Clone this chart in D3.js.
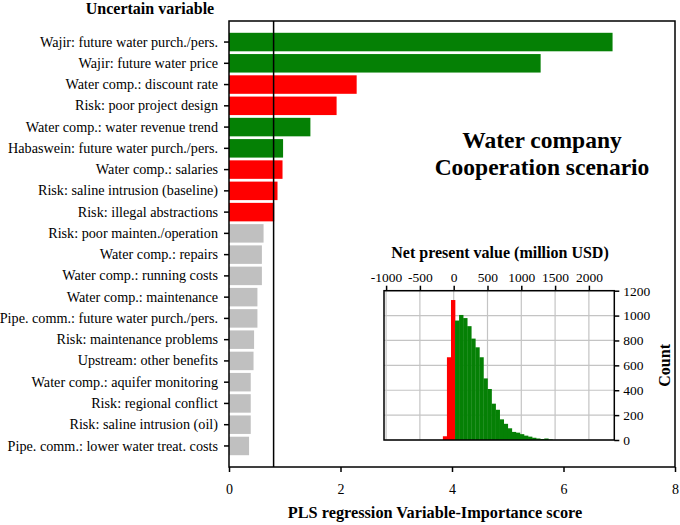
<!DOCTYPE html>
<html>
<head>
<meta charset="utf-8">
<script src="https://cdn.jsdelivr.net/npm/d3@7"></script>
<style>
  body { margin: 0; background: #fff; }
  svg, svg g, svg text { font-family: "Liberation Serif", "Times New Roman", serif; }
</style>
</head>
<body>
<div id="chart"></div>
<script>
// Our canvas
const width = 680,
  height = 525
const serif = '"Liberation Serif", "Times New Roman", serif'

// PLS importance per uncertain variable
const variables = [
  'Wajir: future water purch./pers.',
  'Wajir: future water price',
  'Water comp.: discount rate',
  'Risk: poor project design',
  'Water comp.: water revenue trend',
  'Habaswein: future water purch./pers.',
  'Water comp.: salaries',
  'Risk: saline intrusion (baseline)',
  'Risk: illegal abstractions',
  'Risk: poor mainten./operation',
  'Water comp.: repairs',
  'Water comp.: running costs',
  'Water comp.: maintenance',
  'Pipe. comm.: future water purch./pers.',
  'Risk: maintenance problems',
  'Upstream: other benefits',
  'Water comp.: aquifer monitoring',
  'Risk: regional conflict',
  'Risk: saline intrusion (oil)',
  'Pipe. comm.: lower water treat. costs'
]
const scores = [6.88, 5.59, 2.29, 1.93, 1.46, 0.97, 0.96, 0.87, 0.81, 0.62,
  0.59, 0.59, 0.51, 0.51, 0.45, 0.44, 0.39, 0.39, 0.39, 0.36]
// pos = positive effect on NPV, neg = negative, ns = below threshold
const effects = ['pos', 'pos', 'neg', 'neg', 'pos', 'pos', 'neg', 'neg', 'neg', 'ns',
  'ns', 'ns', 'ns', 'ns', 'ns', 'ns', 'ns', 'ns', 'ns', 'ns']
const threshold = 0.8
const xTicks = [0, 2, 4, 6, 8]

// NPV histogram (million USD), bins of 60 starting at -160
const binStart = -160,
  binWidth = 60
const counts = [30, 665, 1125, 960, 1005, 980, 915, 815, 745, 665, 495, 410, 292,
  243, 166, 130, 94, 65, 59, 47, 35, 27, 18, 12, 8, 12, 4]
const npvTicks = [-1000, -500, 0, 500, 1000, 1500, 2000]
const countTicks = [0, 200, 400, 600, 800, 1000, 1200]

const colors = { pos: '#058005', neg: '#ff0000', ns: '#c0c0c0' }

const svg = d3.select('#chart')
  .append('svg')
  .attr('width', width)
  .attr('height', height)
  .attr('font-family', serif)

// main plot
const pLeft = 229, pRight = 675, pTop = 21, pBottom = 467

const x = d3.scaleLinear().domain([0, 8]).range([pLeft, pRight])
const y = d3.scaleBand()
  .domain(variables)
  .range([pTop, pBottom])
  .paddingInner(0.13)
  .paddingOuter(0.555)

svg.selectAll('rect.bar')
  .data(variables)
  .enter()
  .append('rect')
  .attr('class', 'bar')
  .attr('x', x(0))
  .attr('y', d => y(d))
  .attr('width', (d, i) => x(scores[i]) - x(0))
  .attr('height', y.bandwidth())
  .attr('fill', (d, i) => colors[effects[i]])

svg.append('rect')
  .attr('x', pLeft).attr('y', pTop)
  .attr('width', pRight - pLeft).attr('height', pBottom - pTop)
  .attr('fill', 'none').attr('stroke', '#000').attr('stroke-width', 1.5)

svg.append('line')
  .attr('x1', x(threshold)).attr('x2', x(threshold))
  .attr('y1', pTop).attr('y2', pBottom)
  .attr('stroke', '#000').attr('stroke-width', 1.5)

// style an axis group the way the figure does
let styleAxis = (g, size) => {
  g.attr('font-family', serif)
  g.select('.domain').remove()
  g.selectAll('line').attr('stroke-width', 1.5)
  g.selectAll('text').attr('font-size', size).attr('fill', '#000')
}

const axisL = d3.axisLeft(y).tickSize(5).tickPadding(6)
const gL = svg.append('g').attr('transform', `translate(${pLeft},0)`).call(axisL)
styleAxis(gL, 14.2)

const axisB = d3.axisBottom(x).tickValues(xTicks).tickSize(5).tickPadding(12)
const gB = svg.append('g').attr('transform', `translate(0,${pBottom})`).call(axisB)
styleAxis(gB, 14)

svg.append('text')
  .attr('x', 150).attr('y', 14)
  .attr('text-anchor', 'middle')
  .attr('font-weight', 'bold').attr('font-size', 16)
  .text('Uncertain variable')

svg.append('text')
  .attr('x', 435).attr('y', 518)
  .attr('text-anchor', 'middle')
  .attr('font-weight', 'bold').attr('font-size', 16.3)
  .text('PLS regression Variable-Importance score')

const title = svg.append('text')
  .attr('text-anchor', 'middle')
  .attr('font-weight', 'bold').attr('font-size', 23.5)
title.append('tspan').attr('x', 542).attr('y', 148).text('Water company')
title.append('tspan').attr('x', 542).attr('y', 175).text('Cooperation scenario')

// inset histogram
const iL = 384, iR = 614.3, iT = 290.7, iB = 440

const hx = d3.scaleLinear().domain([-1031, 2376]).range([iL, iR])
const hy = d3.scaleLinear().domain([0, 1200]).range([iB, iT])

const inset = svg.append('g')
inset.append('rect')
  .attr('x', iL).attr('y', iT)
  .attr('width', iR - iL).attr('height', iB - iT)
  .attr('fill', '#fff')

inset.selectAll('line.vgrid')
  .data(npvTicks)
  .enter()
  .append('line')
  .attr('class', 'vgrid')
  .attr('x1', d => hx(d)).attr('x2', d => hx(d))
  .attr('y1', iT).attr('y2', iB)
  .attr('stroke', '#c4c4c4').attr('stroke-width', 1.2)

inset.selectAll('line.hgrid')
  .data(countTicks)
  .enter()
  .append('line')
  .attr('class', 'hgrid')
  .attr('x1', iL).attr('x2', iR)
  .attr('y1', d => hy(d)).attr('y2', d => hy(d))
  .attr('stroke', '#c4c4c4').attr('stroke-width', 1.2)

inset.selectAll('rect.bin')
  .data(counts)
  .enter()
  .append('rect')
  .attr('class', 'bin')
  .attr('x', (d, i) => hx(binStart + i * binWidth))
  .attr('y', d => hy(d))
  .attr('width', hx(binWidth) - hx(0) + 0.3)
  .attr('height', d => hy(0) - hy(d))
  .attr('fill', (d, i) => (binStart + (i + 0.5) * binWidth) < 0 ? colors.neg : colors.pos)

inset.append('rect')
  .attr('x', iL).attr('y', iT)
  .attr('width', iR - iL).attr('height', iB - iT)
  .attr('fill', 'none').attr('stroke', '#000').attr('stroke-width', 1.5)

const axisT = d3.axisTop(hx).tickValues(npvTicks).tickFormat(d => String(d))
  .tickSize(5).tickPadding(4)
const gT = inset.append('g').attr('transform', `translate(0,${iT})`).call(axisT)
styleAxis(gT, 13.5)

const axisR = d3.axisRight(hy).tickValues(countTicks).tickFormat(d => String(d))
  .tickSize(5).tickPadding(4)
const gR = inset.append('g').attr('transform', `translate(${iR},0)`).call(axisR)
styleAxis(gR, 13.5)

inset.append('text')
  .attr('x', 500).attr('y', 258)
  .attr('text-anchor', 'middle')
  .attr('font-weight', 'bold').attr('font-size', 16)
  .text('Net present value (million USD)')

inset.append('text')
  .attr('transform', `translate(670,${(iT + iB) / 2}) rotate(-90)`)
  .attr('text-anchor', 'middle')
  .attr('font-weight', 'bold').attr('font-size', 16)
  .text('Count')
</script>
</body>
</html>
